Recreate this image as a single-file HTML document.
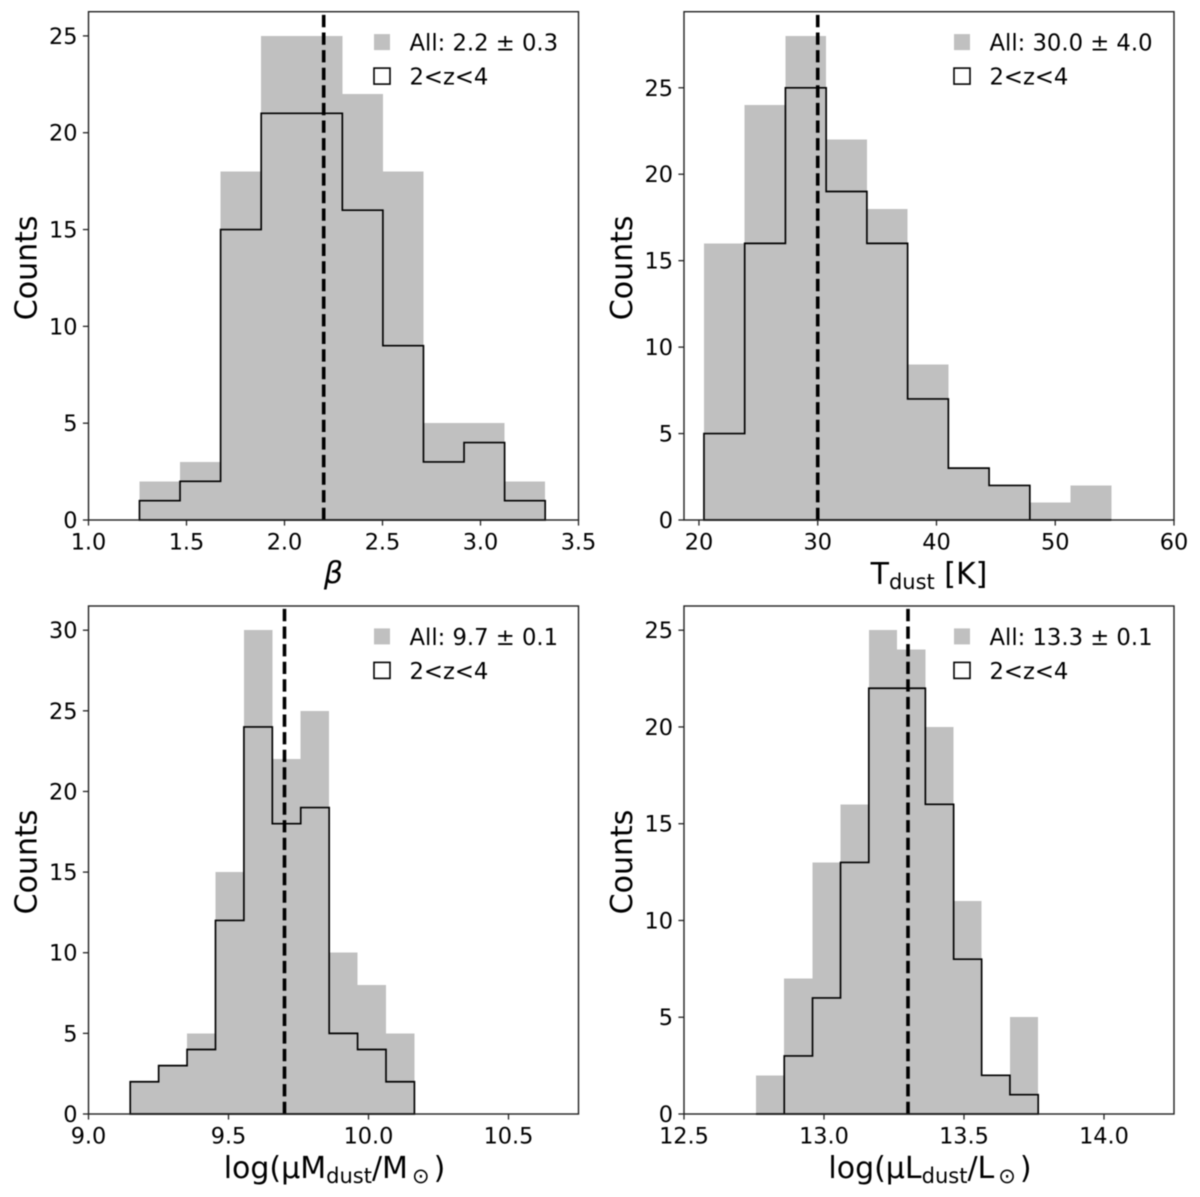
<!DOCTYPE html>
<html lang="en">
<head>
<meta charset="utf-8">
<title>Dust property histograms</title>
<style>
  html, body { margin: 0; padding: 0; background: #fff; }
  #figure { display: block; filter: blur(0.45px); }
  text { font-family: "DejaVu Sans", "Liberation Sans", sans-serif; fill: #000; }
</style>
</head>
<body>
<svg id="figure" xmlns="http://www.w3.org/2000/svg" width="1200" height="1197" viewBox="0 0 1200 1197"></svg>
<script>
// Panel 1: beta
const betaEdges = [1.26, 1.467, 1.674, 1.881, 2.088, 2.295, 2.502, 2.709, 2.916, 3.123, 3.33];
const betaAll = [2, 3, 18, 25, 25, 22, 18, 5, 5, 2];
const betaSub = [1, 2, 15, 21, 21, 16, 9, 3, 4, 1];
const betaXTicks = [1.0, 1.5, 2.0, 2.5, 3.0, 3.5];
const betaXTickLabels = ['1.0', '1.5', '2.0', '2.5', '3.0', '3.5'];
const betaYTicks = [0, 5, 10, 15, 20, 25];
const betaXLim = [1.0, 3.5];
const betaYLim = [0, 26.25];
const betaMedian = 2.2;
const betaLegend = 'All: 2.2 ± 0.3';

// Panel 2: dust temperature
const tdustEdges = [20.42, 23.85, 27.28, 30.71, 34.14, 37.57, 41.0, 44.43, 47.86, 51.29, 54.72];
const tdustAll = [16, 24, 28, 22, 18, 9, 3, 2, 1, 2];
const tdustSub = [5, 16, 25, 19, 16, 7, 3, 2, 0, 0];
const tdustXTicks = [20, 30, 40, 50, 60];
const tdustXTickLabels = ['20', '30', '40', '50', '60'];
const tdustYTicks = [0, 5, 10, 15, 20, 25];
const tdustXLim = [18.74, 60];
const tdustYLim = [0, 29.4];
const tdustMedian = 30.0;
const tdustLegend = 'All: 30.0 ± 4.0';

// Panel 3: dust mass
const mdustEdges = [9.149, 9.2505, 9.352, 9.4535, 9.555, 9.6565, 9.758, 9.8595, 9.961, 10.0625, 10.164];
const mdustAll = [2, 3, 5, 15, 30, 22, 25, 10, 8, 5];
const mdustSub = [2, 3, 4, 12, 24, 18, 19, 5, 4, 2];
const mdustXTicks = [9.0, 9.5, 10.0, 10.5];
const mdustXTickLabels = ['9.0', '9.5', '10.0', '10.5'];
const mdustYTicks = [0, 5, 10, 15, 20, 25, 30];
const mdustXLim = [9.0, 10.75];
const mdustYLim = [0, 31.5];
const mdustMedian = 9.7;
const mdustLegend = 'All: 9.7 ± 0.1';

// Panel 4: dust luminosity
const ldustEdges = [12.757, 12.858, 12.959, 13.059, 13.16, 13.261, 13.362, 13.463, 13.563, 13.664, 13.765];
const ldustAll = [2, 7, 13, 16, 25, 24, 20, 11, 2, 5];
const ldustSub = [0, 3, 6, 13, 22, 22, 16, 8, 2, 1];
const ldustXTicks = [12.5, 13.0, 13.5, 14.0];
const ldustXTickLabels = ['12.5', '13.0', '13.5', '14.0'];
const ldustYTicks = [0, 5, 10, 15, 20, 25];
const ldustXLim = [12.5, 14.25];
const ldustYLim = [0, 26.25];
const ldustMedian = 13.3;
const ldustLegend = 'All: 13.3 ± 0.1';

const subsetLegend = '2<z<4';

const NS = 'http://www.w3.org/2000/svg';
const fig = document.getElementById('figure');

function node(parent, tag, attrs, text) {
  const el = document.createElementNS(NS, tag);
  for (const k in attrs) el.setAttribute(k, attrs[k]);
  if (text !== undefined) el.textContent = text;
  parent.appendChild(el);
  return el;
}

function linearScale(domain, range) {
  return function (v) {
    return range[0] + (v - domain[0]) / (domain[1] - domain[0]) * (range[1] - range[0]);
  };
}

function stepPoints(edges, counts, x, y) {
  const pts = [[x(edges[0]), y(0)]];
  counts.forEach(function (c, i) {
    pts.push([x(edges[i]), y(c)]);
    pts.push([x(edges[i + 1]), y(c)]);
  });
  pts.push([x(edges[edges.length - 1]), y(0)]);
  return pts.map(function (p) { return p[0].toFixed(2) + ',' + p[1].toFixed(2); }).join(' ');
}

function drawPanel(p) {
  const box = p.box;
  const x = linearScale(p.xLim, [box.l, box.r]);
  const y = linearScale(p.yLim, [box.b, box.t]);

  const g = node(fig, 'g', {});
  
  

  // grey histogram bars
  p.all.forEach(function (c, i) {
    const bar = node(g, 'rect', {
      x: x(p.edges[i]), y: y(c),
      width: x(p.edges[i + 1]) - x(p.edges[i]),
      height: y(0) - y(c),
      fill: '#c0c0c0',
      'shape-rendering': 'crispEdges'
    });
    
    
  });

  // subset step outline
  const step = node(g, 'polygon', {
    points: stepPoints(p.edges, p.sub, x, y),
    fill: 'none', stroke: '#000', 'stroke-width': 1.65, 'stroke-linejoin': 'miter'
  });
  
  

  // median dashed line
  const med = node(g, 'line', {
    x1: x(p.median), x2: x(p.median), y1: box.b, y2: box.t,
    stroke: '#000', 'stroke-width': 3.6, 'stroke-dasharray': '12.3 5.3'
  });
  
  

  // frame
  const frame = node(g, 'rect', {
    x: box.l, y: box.t, width: box.r - box.l, height: box.b - box.t,
    fill: 'none', stroke: '#222', 'stroke-width': 1.4
  });
  
  

  // x ticks
  p.xTicks.forEach(function (t, i) {
    const tick = node(g, 'line', { x1: x(t), x2: x(t), y1: box.b, y2: box.b + 5.6, stroke: '#222', 'stroke-width': 1.3 });
    
    
    const lab = node(g, 'text', { x: x(t), y: box.b + 29.3, 'text-anchor': 'middle', 'font-size': 22.4 }, p.xTickLabels[i]);
    
    
  });

  // y ticks
  p.yTicks.forEach(function (t) {
    const tick = node(g, 'line', { x1: box.l - 5.6, x2: box.l, y1: y(t), y2: y(t), stroke: '#222', 'stroke-width': 1.3 });
    
    
    const lab = node(g, 'text', { x: box.l - 11, y: y(t) + 8, 'text-anchor': 'end', 'font-size': 22.4 }, String(t));
    
    
  });

  // y axis title
  const cy = (box.t + box.b) / 2;
  const yTitle = node(g, 'text', {
    x: 0, y: 0, 'text-anchor': 'middle', 'font-size': 30,
    transform: 'translate(' + (box.l - 52) + ' ' + (cy + 2) + ') rotate(-90)'
  }, 'Counts');
  
  

  // x axis title
  const xTitle = node(g, 'text', {
    x: (box.l + box.r) / 2 + p.xTitleDx, y: box.b + p.xTitleDy, 'text-anchor': 'middle', 'font-size': 30
  });
  
  
  p.xTitle.forEach(function (part) {
    const attrs = {};
    if (part.size) attrs['font-size'] = part.size;
    if (part.dy) attrs.dy = part.dy;
    if (part.dx) attrs.dx = part.dx;
    if (part.italic) attrs['font-style'] = 'italic';
    node(xTitle, 'tspan', attrs, part.t);
  });

  // legend
  const lx = box.r - p.legendInset;
  const ly = box.t + 22.4;
  const legendAll = node(g, 'g', {});
  
  
  node(legendAll, 'rect', { x: lx, y: ly, width: 16, height: 16, fill: '#c0c0c0' });
  node(legendAll, 'text', { x: lx + 35.5, y: ly + 16.5, 'font-size': 22.7 }, p.legend);
  const legendSub = node(g, 'g', {});
  
  
  node(legendSub, 'rect', { x: lx, y: ly + 34, width: 16, height: 16, fill: 'none', stroke: '#000', 'stroke-width': 1.6 });
  node(legendSub, 'text', { x: lx + 35.5, y: ly + 50.6, 'font-size': 22.7 }, subsetLegend);
}

drawPanel({
  name: 'beta-histogram-panel',
  box: { l: 88.5, r: 578.5, t: 11.7, b: 520 },
  edges: betaEdges, all: betaAll, sub: betaSub, median: betaMedian,
  xLim: betaXLim, yLim: betaYLim,
  xTicks: betaXTicks, xTickLabels: betaXTickLabels, yTicks: betaYTicks,
  legend: betaLegend, legendInset: 204.5, xTitleDx: 0, xTitleDy: 63,
  xTitle: [{ t: 'β', italic: true }]
});

drawPanel({
  name: 'tdust-histogram-panel',
  box: { l: 684, r: 1174, t: 11.7, b: 520 },
  edges: tdustEdges, all: tdustAll, sub: tdustSub, median: tdustMedian,
  xLim: tdustXLim, yLim: tdustYLim,
  xTicks: tdustXTicks, xTickLabels: tdustXTickLabels, yTicks: tdustYTicks,
  legend: tdustLegend, legendInset: 220, xTitleDx: 0, xTitleDy: 64,
  xTitle: [{ t: 'T' }, { t: 'dust', size: 21, dy: 5 }, { t: ' [K]', dy: -5 }]
});

drawPanel({
  name: 'mdust-histogram-panel',
  box: { l: 88.5, r: 578.5, t: 606, b: 1114 },
  edges: mdustEdges, all: mdustAll, sub: mdustSub, median: mdustMedian,
  xLim: mdustXLim, yLim: mdustYLim,
  xTicks: mdustXTicks, xTickLabels: mdustXTickLabels, yTicks: mdustYTicks,
  legend: mdustLegend, legendInset: 204.5, xTitleDx: 1, xTitleDy: 64,
  xTitle: [{ t: 'log(μM' }, { t: 'dust', size: 21, dy: 5 }, { t: '/M', dy: -5 }, { t: '⊙', size: 21, dy: 5, dx: 4 }, { t: ')', dy: -5, dx: 4 }]
});

drawPanel({
  name: 'ldust-histogram-panel',
  box: { l: 684, r: 1174, t: 606, b: 1114 },
  edges: ldustEdges, all: ldustAll, sub: ldustSub, median: ldustMedian,
  xLim: ldustXLim, yLim: ldustYLim,
  xTicks: ldustXTicks, xTickLabels: ldustXTickLabels, yTicks: ldustYTicks,
  legend: ldustLegend, legendInset: 220, xTitleDx: 1, xTitleDy: 64,
  xTitle: [{ t: 'log(μL' }, { t: 'dust', size: 21, dy: 5 }, { t: '/L', dy: -5 }, { t: '⊙', size: 21, dy: 5, dx: 4 }, { t: ')', dy: -5, dx: 4 }]
});
</script>
</body>
</html>
